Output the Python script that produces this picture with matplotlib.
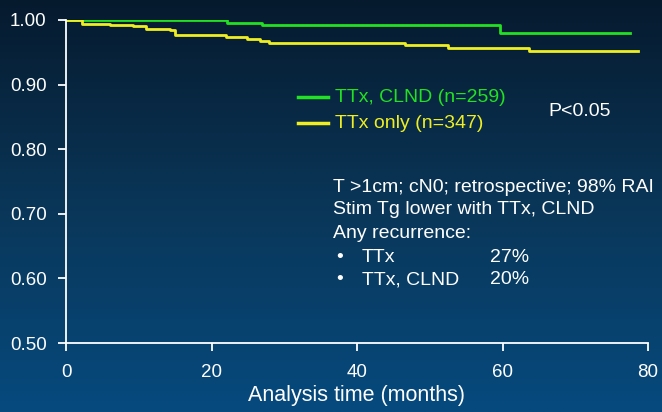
import numpy as np
import matplotlib
matplotlib.use("Agg")
import matplotlib.pyplot as plt
from matplotlib.colors import LinearSegmentedColormap

# Data
clnd_time = [0, 22.1, 27.0, 59.7, 77.5]
clnd_surv = [1.000, 0.996, 0.992, 0.980, 0.980]
only_time = [0, 2.2, 6.0, 9.2, 11.0, 14.3, 15.0, 22.0, 24.9, 26.7, 27.9, 46.6, 52.5, 63.6, 78.6]
only_surv = [1.000, 0.9945, 0.992, 0.9905, 0.986, 0.984, 0.977, 0.974, 0.970, 0.968, 0.964, 0.961, 0.957, 0.952, 0.952]
x_ticks = [0, 20, 40, 60, 80]
y_ticks = [0.50, 0.60, 0.70, 0.80, 0.90, 1.00]
legend_labels = ["TTx, CLND (n=259)", "TTx only (n=347)"]
notes = ["T >1cm; cN0; retrospective; 98% RAI",
         "Stim Tg lower with TTx, CLND",
         "Any recurrence:"]
bullets = [("TTx", "27%"), ("TTx, CLND", "20%")]

plt.rcParams['font.family'] = ['Liberation Sans', 'DejaVu Sans']

fig = plt.figure(figsize=(6.62, 4.12), dpi=100)
bg = fig.add_axes([0, 0, 1, 1], zorder=-10)
cmap = LinearSegmentedColormap.from_list("bg", ["#061a2e", "#0a3658", "#064a7e"])
grad = np.linspace(0, 1, 256).reshape(-1, 1)
bg.imshow(grad, aspect="auto", cmap=cmap, extent=[0, 1, 0, 1], origin="upper")
bg.axis("off")

ax = fig.add_axes([66/662, 1-343/412, (648-66)/662, (343-20)/412])
ax.patch.set_alpha(0)
green = "#22e022"
yellow = "#eeee22"
ax.step(clnd_time, clnd_surv, where="post", color=green, lw=2, label=legend_labels[0])
ax.step(only_time, only_surv, where="post", color=yellow, lw=2, label=legend_labels[1])
ax.set_xlim(0, 80)
ax.set_ylim(0.5, 1.0)
ax.set_xticks(x_ticks)
ax.set_yticks(y_ticks)
ax.set_yticklabels([f"{v:.2f}" for v in y_ticks])
for s in ["top", "right"]:
    ax.spines[s].set_visible(False)
for s in ["left", "bottom"]:
    ax.spines[s].set_color("white")
    ax.spines[s].set_linewidth(1.3)
ax.tick_params(colors="white", labelsize=13.5, length=6, width=1.3)
ax.tick_params(axis="y", pad=8)
ax.tick_params(axis="x", pad=9)
ax.set_xlabel("Analysis time (months)", color="white", fontsize=15.5, labelpad=3)
for lbl in ax.get_xticklabels() + ax.get_yticklabels():
    lbl.set_color("white")

# legend drawn manually
for i, (lab, col) in enumerate(zip(legend_labels, [green, yellow])):
    yy = 1 - (97 + 26*i)/412
    fig.add_artist(plt.Line2D([298/662, 328/662], [yy, yy], color=col, lw=2.5, transform=fig.transFigure))
    fig.text(335/662, yy, lab, color=col, fontsize=14, va="center", ha="left")

fig.text(548/662, 1-111/412, "P<0.05", color="white", fontsize=14, va="center", ha="left")

ys = [188, 210, 233, 257, 280]
for i, t in enumerate(notes):
    fig.text(333/662, 1-ys[i]/412, t, color="white", fontsize=14, va="center", ha="left")
for j, (a, b) in enumerate(bullets):
    y = 1 - ys[3+j]/412
    fig.text(336/662, y, "\u2022", color="white", fontsize=14, va="center", ha="left")
    fig.text(362/662, y, a, color="white", fontsize=14, va="center", ha="left")
    fig.text(490/662, y, b, color="white", fontsize=14, va="center", ha="left")

fig.savefig("out.png", dpi=100)
